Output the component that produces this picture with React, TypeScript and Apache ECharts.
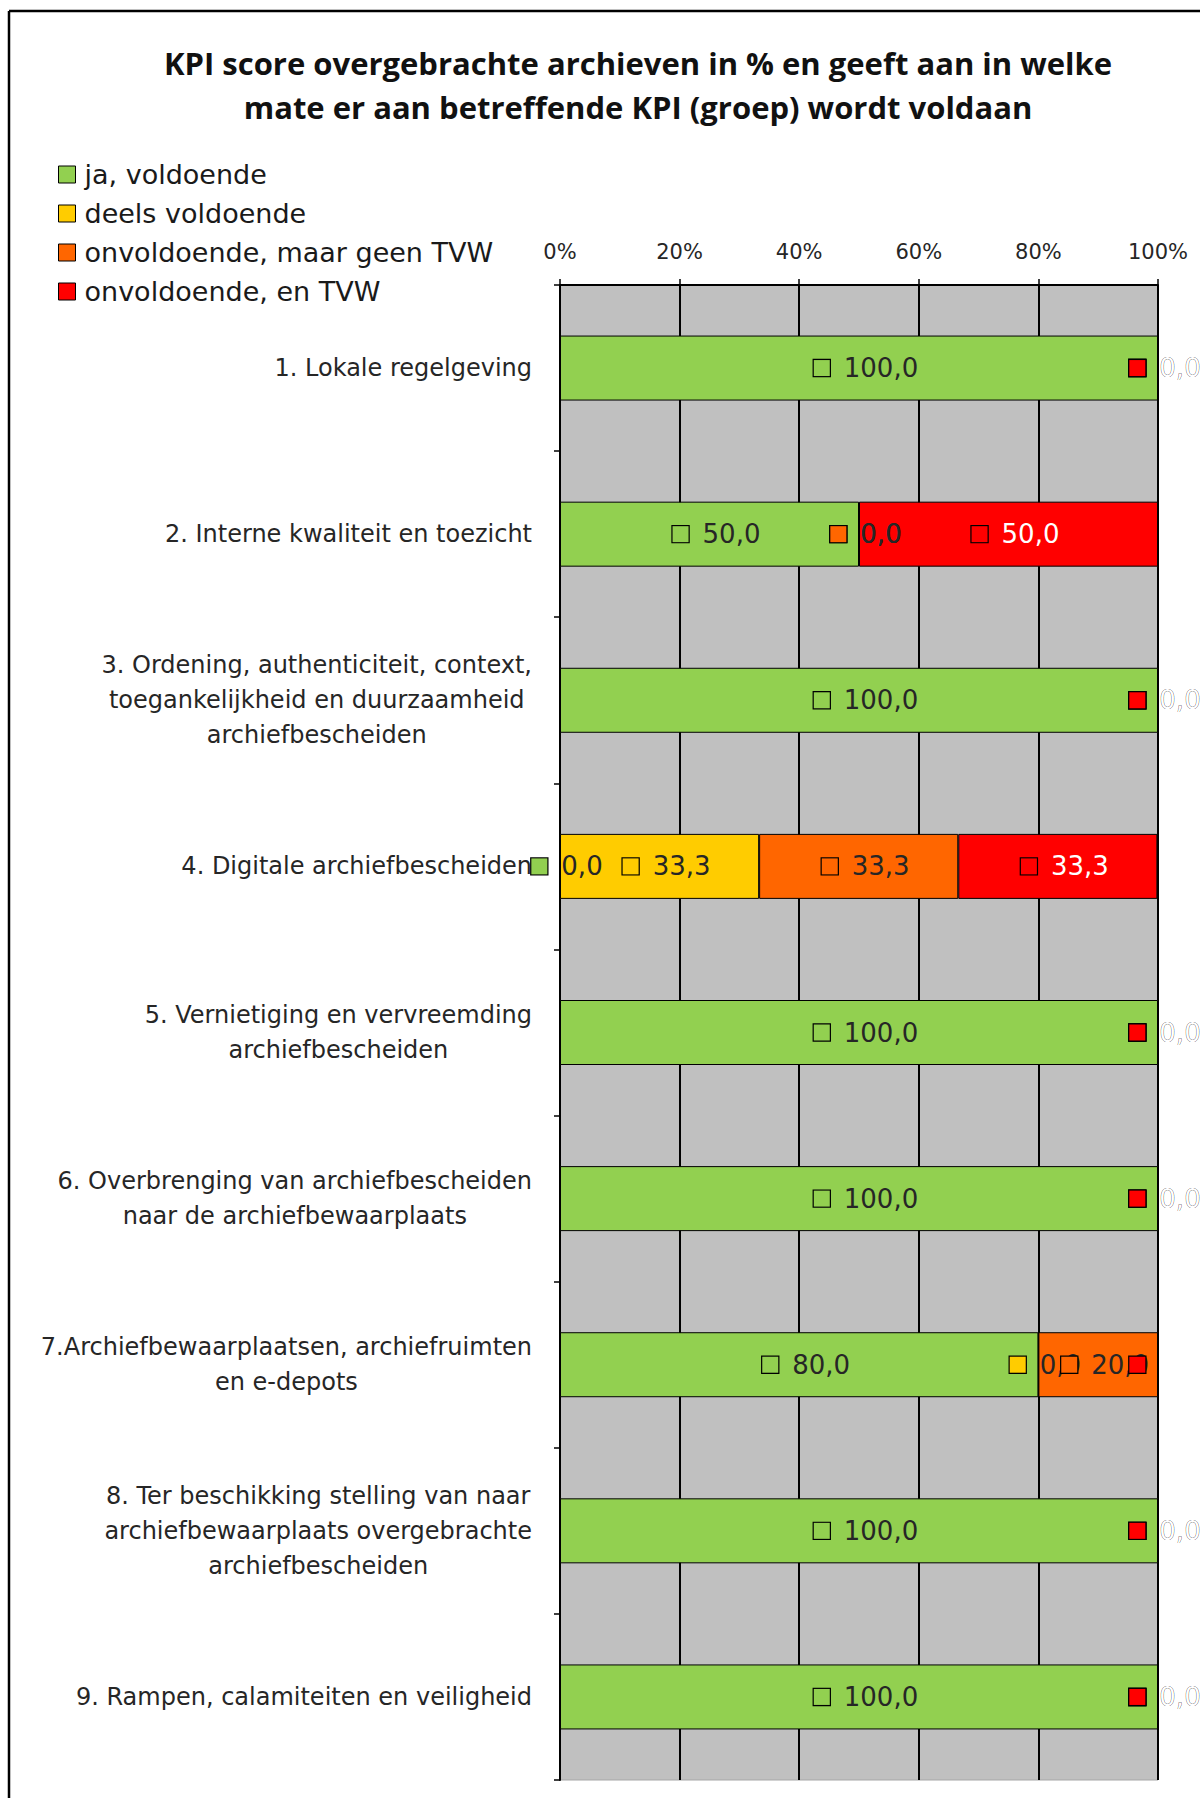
import React, { useEffect, useRef } from 'react';
import * as echarts from 'echarts';

const categories = [
  '1. Lokale regelgeving',
  '2. Interne kwaliteit en toezicht',
  '3. Ordening, authenticiteit, context,\ntoegankelijkheid en duurzaamheid\narchiefbescheiden',
  '4. Digitale archiefbescheiden',
  '5. Vernietiging en vervreemding\narchiefbescheiden',
  '6. Overbrenging van archiefbescheiden\nnaar de archiefbewaarplaats',
  '7.Archiefbewaarplaatsen, archiefruimten\nen e-depots',
  '8. Ter beschikking stelling van naar\narchiefbewaarplaats overgebrachte\narchiefbescheiden',
  '9. Rampen, calamiteiten en veiligheid',
];

const seriesNames = [
  'ja, voldoende',
  'deels voldoende',
  'onvoldoende, maar geen TVW',
  'onvoldoende, en TVW',
];

const jaVoldoende = [100, 50, 100, 0, 100, 100, 80, 100, 100];
const deelsVoldoende = [0, 0, 0, 33.3, 0, 0, 0, 0, 0];
const onvoldoendeGeenTVW = [0, 0, 0, 33.3, 0, 0, 20, 0, 0];
const onvoldoendeTVW = [0, 50, 0, 33.3, 0, 0, 0, 0, 0];

const xMin = 0;
const xMax = 100;
const xInterval = 20;

const titleText =
  'KPI score overgebrachte archieven in % en geeft aan in welke\nmate er aan betreffende KPI (groep) wordt voldaan';

const colors = ['#92D050', '#FFCC00', '#FF6600', '#FF0000'];
const labelColors = ['#262626', '#262626', '#262626', '#FFFFFF'];

const FONT = 'DejaVu Sans';

export default function App() {
  const ref = useRef<HTMLDivElement>(null);

  useEffect(() => {
    document.body.style.margin = '0';
    const chart = echarts.init(ref.current!, undefined, { renderer: 'svg' });
    const values = [jaVoldoende, deelsVoldoende, onvoldoendeGeenTVW, onvoldoendeTVW];
    const fmt = (v: number) => v.toFixed(1).replace('.', ',');

    chart.setOption({
      animation: false,
      backgroundColor: '#ffffff',
      title: {
        text: titleText,
        left: 638,
        top: 41,
        textAlign: 'center',
        padding: 0,
        textStyle: {
          fontFamily: 'Open Sans',
          fontWeight: 'bold',
          fontSize: 31,
          lineHeight: 44,
          color: '#111111',
        },
      },
      legend: {
        data: seriesNames,
        orient: 'vertical',
        left: 58,
        top: 161,
        padding: 0,
        itemWidth: 17,
        itemHeight: 17,
        itemGap: 12,
        icon: 'rect',
        itemStyle: { borderColor: '#000', borderWidth: 1 },
        textStyle: { fontFamily: FONT, fontSize: 27, color: '#1a1a1a', padding: [0, 0, 0, 4] },
      },
      grid: {
        left: 560,
        right: 42,
        top: 285,
        bottom: 18,
        show: true,
        backgroundColor: '#C0C0C0',
        borderColor: '#A6A6A6',
        borderWidth: 1,
      },
      xAxis: {
        type: 'value',
        position: 'top',
        min: xMin,
        max: xMax,
        interval: xInterval,
        axisLine: { show: true, lineStyle: { color: '#000', width: 2 } },
        axisTick: { show: true, length: 6, lineStyle: { color: '#000', width: 1.5 } },
        splitLine: { show: true, lineStyle: { color: '#000', width: 2 } },
        axisLabel: {
          formatter: '{value}%',
          margin: 23,
          fontFamily: FONT,
          fontSize: 21,
          color: '#262626',
        },
      },
      yAxis: {
        type: 'category',
        inverse: true,
        data: categories,
        axisLine: { show: true, lineStyle: { color: '#000', width: 2 } },
        axisTick: { show: true, length: 6, lineStyle: { color: '#000', width: 1.5 } },
        axisLabel: {
          interval: 0,
          align: 'right',
          margin: 28,
          formatter: (value: string) =>
            value
              .split('\n')
              .map((l) => `{c|${l}}`)
              .join('\n'),
          rich: {
            c: {
              align: 'center',
              fontFamily: FONT,
              fontSize: 24,
              lineHeight: 35,
              color: '#262626',
            },
          },
        },
      },
      series: values.map((data, i) => ({
        name: seriesNames[i],
        type: 'bar',
        stack: 'total',
        barWidth: 65,
        data: data.map((v) => (v === 0 ? { value: v, itemStyle: { borderWidth: 0 } } : v)),
        itemStyle: { color: colors[i], borderColor: '#000', borderWidth: 1 },
        label: {
          show: true,
          position: 'inside',
          offset: [7, 0],
          formatter: (p: any) => `{k|}{v|${fmt(Number(p.value))}}`,
          rich: {
            k: {
              width: 16,
              height: 16,
              backgroundColor: colors[i],
              borderColor: '#000',
              borderWidth: 1.2,
              verticalAlign: 'middle',
            },
            v: {
              fontFamily: FONT,
              fontSize: 26,
              color: labelColors[i],
              padding: [0, 0, 0, 14],
              verticalAlign: 'middle',
            },
          },
        },
      })),
      graphic: [
        {
          type: 'line',
          shape: { x1: 9, y1: 11, x2: 9, y2: 1798 },
          style: { stroke: '#000', lineWidth: 2.5 },
        },
        {
          type: 'line',
          shape: { x1: 9, y1: 11, x2: 1200, y2: 11 },
          style: { stroke: '#000', lineWidth: 2.5 },
        },
      ],
    });

    return () => chart.dispose();
  }, []);

  return <div ref={ref} style={{ width: 1200, height: 1798 }} />;
}
